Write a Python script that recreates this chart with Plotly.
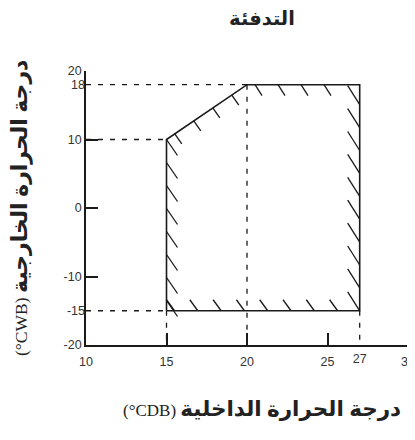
import math
import plotly.graph_objects as go

# ---- data ----
region_cdb = [15, 15, 20, 27, 27]      # indoor dry-bulb (°CDB) polygon vertices
region_cwb = [-15, 10, 18, 18, -15]    # outdoor wet-bulb (°CWB) polygon vertices
x_tick_marked = [10, 15, 20, 25, 30]
x_tick_plain = [27]
y_tick_marked = [20, 10, 0, -10, -20]
y_tick_plain = [18, -15]
x_range = [10, 30]
y_range = [-20, 20]

title_text = "التدفئة"
x_title_ar = "درجة الحرارة الداخلية"
x_title_unit = "(°CDB)"
y_title_ar = "درجة الحرارة الخارجية"
y_title_unit = "(°CWB)"

# page has an 8px body margin; figure coordinates are page coordinates - 8
OFF = 8
W, H = 420, 440 - 2 * OFF
ML, MT = 86 - OFF, 71 - OFF
PLOT_W, PLOT_H = 322, 274
MR = W - ML - PLOT_W
MB = H - MT - PLOT_H
sx = PLOT_W / (x_range[1] - x_range[0])
sy = PLOT_H / (y_range[1] - y_range[0])

# ---- polygon outline ----
poly_x = region_cdb + [region_cdb[0]]
poly_y = region_cwb + [region_cwb[0]]

# ---- dashed guides from vertices to axes ----
gx, gy = [], []
for i in (2, 1, 0):  # horizontal guides
    gx += [x_range[0], region_cdb[i], None]
    gy += [region_cwb[i], region_cwb[i], None]
for i in (2, 0, 4):  # vertical guides
    gx += [region_cdb[i], region_cdb[i], None]
    gy += [region_cwb[i], y_range[0], None]

# ---- edge hatching (decorative) ----
def hatch(a, b, offset, step, n, size, anchor):
    ax, ay = region_cdb[a], region_cwb[a]
    bx, by = region_cdb[b], region_cwb[b]
    lpx = math.hypot((bx - ax) * sx, (by - ay) * sy)
    dx, dy = size[0] / sx, -size[1] / sy
    xs, ys = [], []
    for k in range(n):
        t = (offset + k * step) / lpx
        px, py = ax + t * (bx - ax), ay + t * (by - ay)
        if anchor == "start":
            xs += [px, px + dx, None]; ys += [py, py + dy, None]
        else:
            xs += [px - dx, px, None]; ys += [py - dy, py, None]
    return xs, ys

hx, hy = [], []
for spec in [
    (1, 0, 0, 23, 8, (11, 16), "start"),
    (1, 2, 10, 23, 4, (7, 10), "start"),
    (2, 3, 8, 23, 4, (7, 11), "start"),
    (3, 4, 20, 22.9, 10, (12, 19), "end"),
    (0, 4, 8, 23.3, 8, (8, 11), "end"),
]:
    xs, ys = hatch(*spec)
    hx += xs; hy += ys

tickfont = dict(family="Liberation Sans, Arial, sans-serif", size=12.5, color="#333")
ink = "#1a1a1a"

def labels(vals):
    return [str(v) for v in vals]

fig = go.Figure()
fig.add_trace(go.Scatter(x=gx, y=gy, mode="lines", xaxis="x2", yaxis="y2",
                         line=dict(color=ink, width=1.3, dash="5px,7px"), hoverinfo="skip"))
fig.add_trace(go.Scatter(x=hx, y=hy, mode="lines",
                         line=dict(color=ink, width=1.3), hoverinfo="skip"))
fig.add_trace(go.Scatter(x=poly_x, y=poly_y, mode="lines",
                         line=dict(color=ink, width=1.6), hoverinfo="skip"))

axis_common = dict(showgrid=False, zeroline=False, tickfont=tickfont, automargin=False)
fig.update_layout(
    width=W, height=H,
    margin=dict(l=ML, r=MR, t=MT, b=MB, autoexpand=False),
    paper_bgcolor="white", plot_bgcolor="white",
    showlegend=False,
    xaxis=dict(range=x_range, tickmode="array", tickvals=x_tick_marked,
               ticktext=labels(x_tick_marked), ticklabelstandoff=4,
               ticklabeloverflow="allow",
               ticks="inside", ticklen=12, tickwidth=1.6, tickcolor=ink,
               showline=True, linecolor=ink, linewidth=1.6, **axis_common),
    yaxis=dict(range=y_range, tickmode="array", tickvals=y_tick_marked,
               ticktext=labels(y_tick_marked), ticklabelstandoff=0,
               ticks="inside", ticklen=12, tickwidth=1.6, tickcolor=ink,
               showline=True, linecolor=ink, linewidth=1.6, **axis_common),
    xaxis2=dict(range=x_range, overlaying="x", anchor="y", side="bottom",
                tickmode="array", tickvals=x_tick_plain, ticktext=labels(x_tick_plain),
                ticklabelstandoff=4, ticks="", showline=False, **axis_common),
    yaxis2=dict(range=y_range, overlaying="y", anchor="x", side="left",
                tickmode="array", tickvals=y_tick_plain, ticktext=labels(y_tick_plain),
                ticklabelstandoff=0, ticks="", showline=False, **axis_common),
    title=dict(text="<b>" + title_text + "</b>", x=(262 - OFF) / W, xanchor="center",
               y=1 - (18 - OFF) / H, yanchor="middle",
               font=dict(family="DejaVu Sans, sans-serif", size=19.5, color="#222")),
    annotations=[
        dict(text=x_title_unit + " <b><span style='font-size:21.5px'>" + x_title_ar + "</span></b>",
             xref="paper", yref="paper",
             x=(262 - 86) / PLOT_W, y=-(409 - 345) / PLOT_H,
             xanchor="center", yanchor="middle", showarrow=False,
             font=dict(family="Liberation Serif, DejaVu Sans, serif", size=17, color="#222")),
        dict(text=y_title_unit + " <b><span style='font-size:22px'>" + y_title_ar + "</span></b>",
             xref="paper", yref="paper", textangle=-90,
             x=(20 - 86) / PLOT_W, y=(345 - 208) / PLOT_H,
             xanchor="center", yanchor="middle", showarrow=False,
             font=dict(family="Liberation Serif, DejaVu Sans, serif", size=17.5, color="#222")),
    ],
)

fig.write_html("out.html")
